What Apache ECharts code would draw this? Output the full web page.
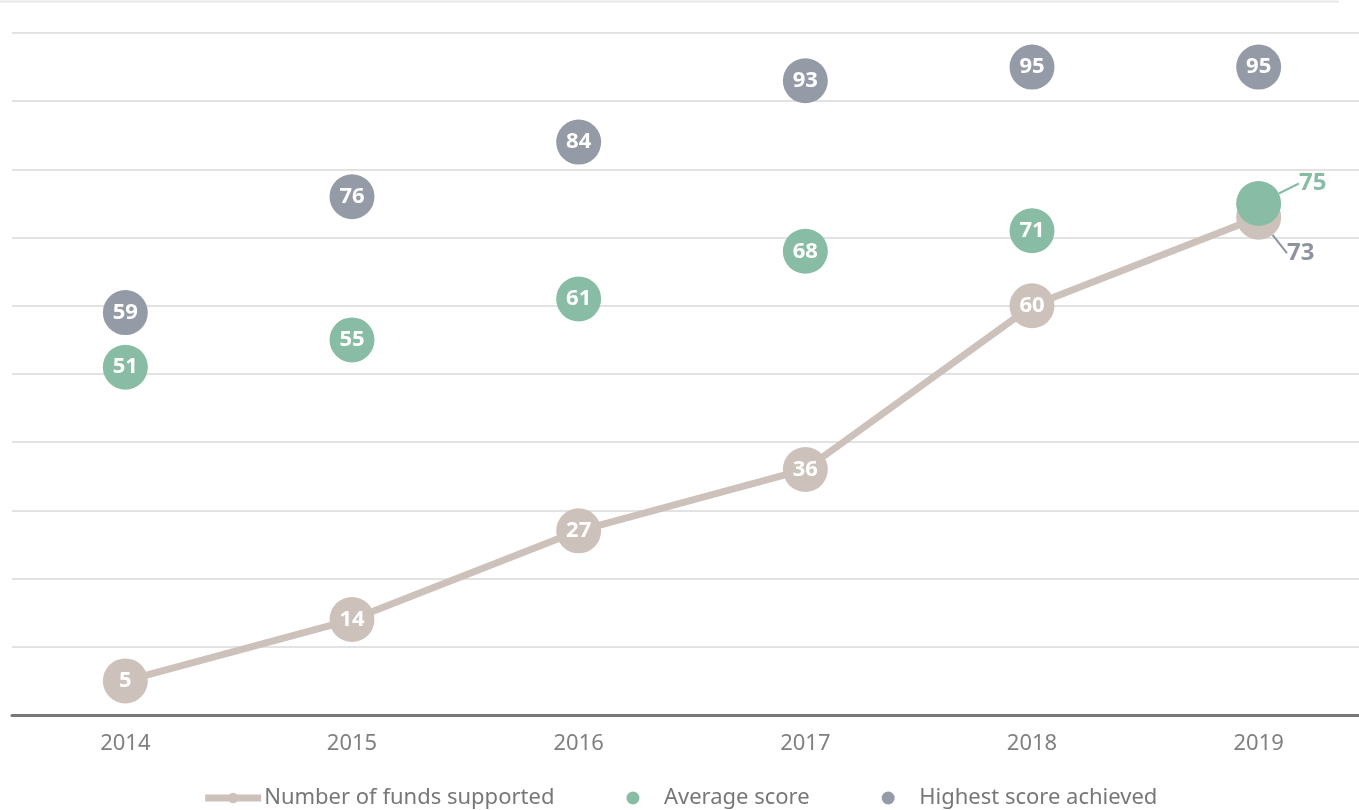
<!DOCTYPE html>
<html>
<head>
<meta charset="utf-8">
<script src="https://cdn.jsdelivr.net/npm/echarts@6/dist/echarts.min.js"></script>
<style>html,body{margin:0;padding:0;background:#fff;}#c{width:1359px;height:810px;}</style>
</head>
<body>
<div id="c"></div>
<script>
var years = ['2014', '2015', '2016', '2017', '2018', '2019'];
var fundsSupported = [5, 14, 27, 36, 60, 73];
var averageScore = [51, 55, 61, 68, 71, 75];
var highestScore = [59, 76, 84, 93, 95, 95];

var FONT = '"Noto Sans", sans-serif';
var BEIGE = '#cdc2bb', GREEN = '#89bca4', GRAY = '#959ba6';

function mk(values, lastLabel) {
  return values.map(function (v, i) {
    if (i === values.length - 1 && lastLabel) {
      return {
        value: v,
        label: { color: lastLabel.color, fontSize: 24 },
        labelLine: { show: true, lineStyle: { color: lastLabel.color, width: 2 } }
      };
    }
    return v;
  });
}

var chart = echarts.init(document.getElementById('c'), null, { renderer: 'canvas' });
chart.setOption({
  animation: false,
  backgroundColor: '#fff',
  textStyle: { fontFamily: FONT },
  graphic: [{
    type: 'line', shape: { x1: 0, y1: 1.5, x2: 1339, y2: 1.5 },
    style: { stroke: '#e6e6e6', lineWidth: 2 }, silent: true
  }],
  grid: { left: 12, width: 1360, top: 33, bottom: 95, containLabel: false, outerBoundsMode: 'none' },
  legend: {
    bottom: -4, left: 'center',
    itemWidth: 56, itemHeight: 13, itemGap: 72,
    lineStyle: { width: 7 },
    textStyle: { color: '#777', fontSize: 22, fontFamily: FONT, padding: [0, 0, 0, -2] },
    data: ['Number of funds supported', 'Average score', 'Highest score achieved']
  },
  xAxis: {
    type: 'category', data: years, boundaryGap: true,
    axisLine: { lineStyle: { color: '#777', width: 3 } },
    axisTick: { show: false },
    axisLabel: { color: '#808080', fontSize: 22, margin: 18, fontFamily: FONT }
  },
  yAxis: {
    type: 'value', min: 0, max: 100, interval: 10,
    axisLabel: { show: false }, axisLine: { show: false }, axisTick: { show: false },
    splitLine: { lineStyle: { color: '#d9d9d9', width: 1.5 } }
  },
  series: [
    {
      name: 'Number of funds supported', type: 'line',
      data: mk(fundsSupported, { color: '#8e949f' }),
      symbol: 'circle', symbolSize: 45, showAllSymbol: true,
      itemStyle: { color: BEIGE },
      lineStyle: { color: BEIGE, width: 7 },
      label: { show: true, position: 'inside', color: '#fff', fontSize: 22, fontWeight: 'bold', fontFamily: FONT },
      labelLayout: function (p) { if (p.dataIndex === 5) return { dx: 42, dy: 36 }; },
      z: 2
    },
    {
      name: 'Average score', type: 'scatter',
      data: mk(averageScore, { color: GREEN }),
      symbol: 'circle', symbolSize: 45,
      itemStyle: { color: GREEN, opacity: 1 },
      label: { show: true, position: 'inside', color: '#fff', fontSize: 22, fontWeight: 'bold', fontFamily: FONT },
      labelLayout: function (p) { if (p.dataIndex === 5) return { dx: 54, dy: -20 }; },
      z: 3
    },
    {
      name: 'Highest score achieved', type: 'scatter',
      data: highestScore,
      symbol: 'circle', symbolSize: 45,
      itemStyle: { color: GRAY, opacity: 1 },
      label: { show: true, position: 'inside', color: '#fff', fontSize: 22, fontWeight: 'bold', fontFamily: FONT },
      z: 3
    }
  ]
});
</script>
</body>
</html>
